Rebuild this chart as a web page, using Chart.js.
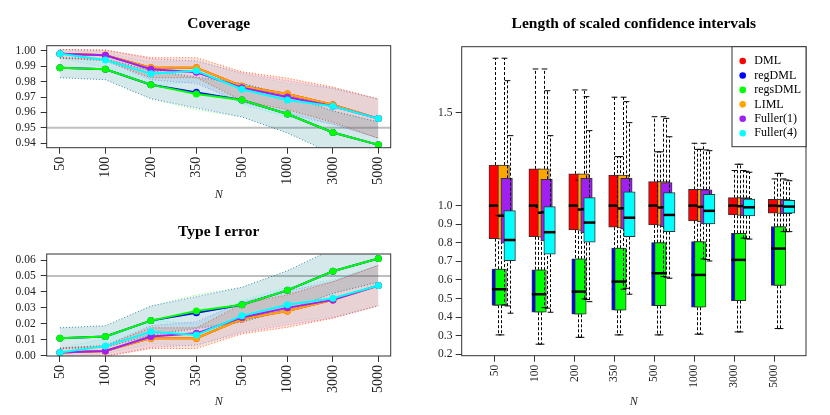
<!DOCTYPE html>
<html lang="en">
<head>
<meta charset="UTF-8" />
<title>Coverage, type I error and CI length</title>
<style>
  html, body { margin: 0; padding: 0; background: #fff; overflow: hidden; }
  body { width: 830px; height: 415px; position: relative; }
  canvas { position: absolute; }
  #coverage { left: 0; top: 0; }
  #typeI { left: 0; top: 207px; }
  #lengths { left: 432px; top: 0; }
</style>
</head>
<body>
<canvas id="coverage" width="437" height="207"></canvas>
<canvas id="typeI" width="437" height="208"></canvas>
<canvas id="lengths" width="404" height="415"></canvas>

<script src="https://cdn.jsdelivr.net/npm/chart.js@4.4.1/dist/chart.umd.min.js"></script>
<script>
const sampleSizes = ['50', '100', '200', '350', '500', '1000', '3000', '5000'];
const methods = ['DML', 'regDML', 'regsDML', 'LIML', 'Fuller(1)', 'Fuller(4)'];
const methodColors = ['#FF0000', '#0000FF', '#00FF00', '#FFA500', '#A020F0', '#00FFFF'];

// one row per method, one column per N
const coverage = [
  [0.998, 0.997, 0.989, 0.989, 0.977, 0.972, 0.965, 0.956],
  [0.989, 0.988, 0.978, 0.973, 0.968, 0.959, 0.947, 0.939],
  [0.989, 0.988, 0.978, 0.972, 0.968, 0.959, 0.947, 0.939],
  [0.998, 0.997, 0.989, 0.989, 0.977, 0.972, 0.965, 0.956],
  [0.998, 0.997, 0.988, 0.986, 0.976, 0.970, 0.964, 0.956],
  [0.998, 0.994, 0.985, 0.987, 0.975, 0.968, 0.964, 0.956]
];
const coverageLow = [
  [0.9952, 0.9936, 0.9825, 0.9825, 0.9677, 0.9618, 0.9536, 0.9433],
  [0.9825, 0.9812, 0.9689, 0.9630, 0.9571, 0.9467, 0.9331, 0.9242],
  [0.9825, 0.9812, 0.9689, 0.9618, 0.9571, 0.9467, 0.9331, 0.9242],
  [0.9952, 0.9936, 0.9825, 0.9825, 0.9677, 0.9618, 0.9536, 0.9433],
  [0.9952, 0.9936, 0.9812, 0.9787, 0.9665, 0.9594, 0.9524, 0.9433],
  [0.9952, 0.9892, 0.9775, 0.9800, 0.9653, 0.9571, 0.9524, 0.9433]
];
const coverageHigh = [
  [1.0008, 1.0004, 0.9955, 0.9955, 0.9863, 0.9822, 0.9764, 0.9687],
  [0.9955, 0.9948, 0.9871, 0.9830, 0.9789, 0.9713, 0.9609, 0.9538],
  [0.9955, 0.9948, 0.9871, 0.9822, 0.9789, 0.9713, 0.9609, 0.9538],
  [1.0008, 1.0004, 0.9955, 0.9955, 0.9863, 0.9822, 0.9764, 0.9687],
  [1.0008, 1.0004, 0.9948, 0.9933, 0.9855, 0.9806, 0.9756, 0.9687],
  [1.0008, 0.9988, 0.9925, 0.9940, 0.9847, 0.9789, 0.9756, 0.9687]
];

const typeOneError = [
  [0.002, 0.003, 0.011, 0.011, 0.023, 0.028, 0.035, 0.044],
  [0.011, 0.012, 0.022, 0.027, 0.032, 0.041, 0.053, 0.061],
  [0.011, 0.012, 0.022, 0.028, 0.032, 0.041, 0.053, 0.061],
  [0.002, 0.003, 0.011, 0.011, 0.023, 0.028, 0.035, 0.044],
  [0.002, 0.003, 0.012, 0.014, 0.024, 0.030, 0.035, 0.044],
  [0.002, 0.006, 0.015, 0.013, 0.025, 0.032, 0.036, 0.044]
];
const typeOneLow = [
  [-0.0008, -0.0004, 0.0045, 0.0045, 0.0137, 0.0178, 0.0236, 0.0313],
  [0.0045, 0.0052, 0.0129, 0.0170, 0.0211, 0.0287, 0.0391, 0.0462],
  [0.0045, 0.0052, 0.0129, 0.0178, 0.0211, 0.0287, 0.0391, 0.0462],
  [-0.0008, -0.0004, 0.0045, 0.0045, 0.0137, 0.0178, 0.0236, 0.0313],
  [-0.0008, -0.0004, 0.0052, 0.0067, 0.0145, 0.0194, 0.0236, 0.0313],
  [-0.0008, 0.0012, 0.0075, 0.0060, 0.0153, 0.0211, 0.0244, 0.0313]
];
const typeOneHigh = [
  [0.0048, 0.0064, 0.0175, 0.0175, 0.0323, 0.0382, 0.0464, 0.0567],
  [0.0175, 0.0188, 0.0311, 0.0370, 0.0429, 0.0533, 0.0669, 0.0758],
  [0.0175, 0.0188, 0.0311, 0.0382, 0.0429, 0.0533, 0.0669, 0.0758],
  [0.0048, 0.0064, 0.0175, 0.0175, 0.0323, 0.0382, 0.0464, 0.0567],
  [0.0048, 0.0064, 0.0188, 0.0213, 0.0335, 0.0406, 0.0464, 0.0567],
  [0.0048, 0.0108, 0.0225, 0.0200, 0.0347, 0.0429, 0.0476, 0.0567]
];

// boxplot statistics of the scaled CI lengths
const lenLower = [
  [0.465, 0.451, 0.498, 0.550, 0.618, 0.713, 0.825, 0.860],
  [0.304, 0.254, 0.291, 0.304, 0.304, 0.308, 0.320, 0.338],
  [0.304, 0.254, 0.291, 0.304, 0.304, 0.308, 0.320, 0.338],
  [0.465, 0.451, 0.498, 0.550, 0.618, 0.713, 0.825, 0.860],
  [0.460, 0.448, 0.495, 0.555, 0.615, 0.710, 0.822, 0.860],
  [0.421, 0.426, 0.483, 0.523, 0.609, 0.702, 0.820, 0.860]
];
const lenQ1 = [
  [0.822, 0.833, 0.869, 0.884, 0.896, 0.918, 0.950, 0.959],
  [0.464, 0.426, 0.415, 0.437, 0.462, 0.453, 0.489, 0.571],
  [0.464, 0.426, 0.415, 0.437, 0.462, 0.453, 0.489, 0.571],
  [0.820, 0.830, 0.866, 0.880, 0.893, 0.914, 0.948, 0.958],
  [0.798, 0.810, 0.855, 0.873, 0.887, 0.902, 0.946, 0.957],
  [0.704, 0.739, 0.803, 0.833, 0.860, 0.902, 0.945, 0.959]
];
const lenMedian = [
  [1.000, 1.000, 1.000, 1.000, 1.000, 1.000, 1.000, 1.000],
  [0.550, 0.523, 0.537, 0.591, 0.636, 0.627, 0.708, 0.769],
  [0.550, 0.523, 0.537, 0.591, 0.636, 0.627, 0.708, 0.769],
  [0.946, 0.962, 0.979, 0.985, 0.990, 0.993, 0.997, 0.998],
  [0.946, 0.964, 0.981, 0.986, 0.991, 0.994, 0.998, 0.999],
  [0.815, 0.857, 0.909, 0.935, 0.950, 0.972, 0.991, 0.995]
];
const lenQ3 = [
  [1.219, 1.198, 1.171, 1.165, 1.129, 1.088, 1.043, 1.034],
  [0.658, 0.654, 0.713, 0.771, 0.801, 0.806, 0.851, 0.887],
  [0.658, 0.654, 0.713, 0.771, 0.801, 0.806, 0.851, 0.887],
  [1.219, 1.198, 1.171, 1.165, 1.129, 1.088, 1.043, 1.034],
  [1.147, 1.142, 1.147, 1.147, 1.124, 1.085, 1.040, 1.031],
  [0.973, 0.995, 1.043, 1.075, 1.070, 1.061, 1.036, 1.029]
];
const lenUpper = [
  [1.794, 1.736, 1.623, 1.584, 1.479, 1.336, 1.189, 1.144],
  [0.946, 0.990, 1.138, 1.264, 1.290, 1.303, 1.223, 1.174],
  [0.946, 0.990, 1.138, 1.264, 1.290, 1.303, 1.223, 1.174],
  [1.794, 1.736, 1.623, 1.584, 1.479, 1.336, 1.189, 1.144],
  [1.673, 1.619, 1.587, 1.560, 1.470, 1.300, 1.185, 1.138],
  [1.377, 1.377, 1.404, 1.447, 1.371, 1.296, 1.180, 1.134]
];

const coverageTicks = [0.94, 0.95, 0.96, 0.97, 0.98, 0.99, 1.00];
const errorTicks = [0.00, 0.01, 0.02, 0.03, 0.04, 0.05, 0.06];
const lengthTicks = [0.2, 0.3, 0.4, 0.5, 0.6, 0.7, 0.8, 0.9, 1.0, 1.5];

const serif = "'Liberation Serif', 'DejaVu Serif', serif";
const BOX_W = 11.5;      // box width in px
const BOX_SHIFT = 0.075; // shift between methods, in N steps

function rgba(hex, a) {
  const n = parseInt(hex.slice(1), 16);
  return `rgba(${(n >> 16) & 255},${(n >> 8) & 255},${n & 255},${a})`;
}

const frame = {
  id: 'frame',
  afterDatasetsDraw(chart) {
    const a = chart.chartArea, ctx = chart.ctx;
    ctx.save();
    ctx.strokeStyle = '#333';
    ctx.lineWidth = 1;
    ctx.strokeRect(a.left, a.top, a.right - a.left, a.bottom - a.top);
    ctx.restore();
  }
};

const refLine = {
  id: 'refLine',
  beforeDatasetsDraw(chart, args, opts) {
    if (opts.level == null) return;
    const a = chart.chartArea, ctx = chart.ctx;
    const y = chart.scales.y.getPixelForValue(opts.level);
    ctx.save();
    ctx.strokeStyle = '#BEBEBE';
    ctx.lineWidth = 2;
    ctx.beginPath();
    ctx.moveTo(a.left, y);
    ctx.lineTo(a.right, y);
    ctx.stroke();
    ctx.restore();
  }
};

function xAxis(min, max, fontSize, h, nBottom) {
  return {
    type: 'linear', min: min, max: max, offset: false,
    afterBuildTicks: s => { s.ticks = sampleSizes.map((_, i) => ({ value: i })); },
    afterFit: s => { s.height = h; },
    ticks: {
      callback: v => sampleSizes[v], autoSkip: false, maxRotation: 90, minRotation: 90,
      color: '#222', padding: 3, font: { family: serif, size: fontSize }
    },
    grid: { offset: false, drawOnChartArea: false, tickLength: 6, tickColor: '#333' },
    border: { display: false },
    title: {
      display: true, text: 'N', color: '#222',
      font: { family: serif, size: 12, style: 'italic' },
      padding: { top: 0, bottom: nBottom }
    }
  };
}

function yAxis(min, max, ticks, digits, w, pad) {
  return {
    min: min, max: max,
    afterBuildTicks: s => { s.ticks = ticks.map(v => ({ value: v })); },
    afterFit: s => { s.width = w; },
    ticks: { callback: v => v.toFixed(digits), color: '#222', padding: pad, font: { family: serif, size: 11.5 } },
    grid: { drawOnChartArea: false, tickLength: 6, tickColor: '#333' },
    border: { display: false }
  };
}

function titleOpts(text, top, bottom) {
  return {
    display: true, text: text, fullSize: false, color: '#000',
    font: { family: serif, size: 15.5, weight: 'bold' },
    padding: { top: top, bottom: bottom }
  };
}

function lineChart(id, title, values, lows, highs, yMin, yMax, ticks, level, g) {
  const datasets = [];
  methods.forEach((m, k) => {
    const edge = rgba(methodColors[k], 0.45);
    datasets.push({
      data: highs[k].map((v, i) => ({ x: i, y: v })),
      borderColor: edge, borderWidth: 1, borderDash: [1, 2],
      backgroundColor: rgba(methodColors[k], 0.085), fill: '+1',
      pointRadius: 0, order: 100
    });
    datasets.push({
      data: lows[k].map((v, i) => ({ x: i, y: v })),
      borderColor: edge, borderWidth: 1, borderDash: [1, 2],
      fill: false, pointRadius: 0, order: 100
    });
  });
  methods.forEach((m, k) => {
    datasets.push({
      label: m,
      data: values[k].map((v, i) => ({ x: i, y: v })),
      borderColor: methodColors[k], backgroundColor: methodColors[k],
      borderWidth: 2, pointRadius: 3.5, pointBorderWidth: 0,
      pointBackgroundColor: methodColors[k], fill: false, order: 20 - k
    });
  });

  new Chart(document.getElementById(id), {
    type: 'line',
    data: { datasets: datasets },
    options: {
      responsive: false, animation: false, devicePixelRatio: 1,
      layout: { padding: { left: 0, right: g.right, top: 0, bottom: 0 } },
      plugins: {
        legend: { display: false }, tooltip: { enabled: false },
        title: titleOpts(title, g.titleTop, g.titleBottom),
        refLine: { level: level }
      },
      scales: {
        x: xAxis(-0.29, 7.27, 14, g.xHeight, g.nBottom),
        y: yAxis(yMin, yMax, ticks, 2, 46.7, 5)
      }
    },
    plugins: [refLine, frame]
  });
}

lineChart('coverage', 'Coverage', coverage, coverageLow, coverageHigh,
  0.93715, 1.00324, coverageTicks, 0.95,
  { right: 46.3, titleTop: 14.7, titleBottom: 12.4, xHeight: 59.3, nBottom: 5.1 });

lineChart('typeI', 'Type I error', typeOneError, typeOneLow, typeOneHigh,
  -0.0002, 0.0638, errorTicks, 0.05,
  { right: 46.3, titleTop: 16, titleBottom: 12.4, xHeight: 59, nBottom: 6.1 });

// whiskers, staples and medians drawn per method, so later boxes cover earlier ones
const boxParts = {
  id: 'boxParts',
  beforeDatasetDraw(chart, args) {
    const k = args.index, ctx = chart.ctx;
    const xs = chart.scales.x, ys = chart.scales.y;
    ctx.save();
    ctx.strokeStyle = '#000';
    ctx.lineWidth = 1;
    sampleSizes.forEach((_, i) => {
      const cx = Math.round(xs.getPixelForValue(i + k * BOX_SHIFT)) + 0.5;
      const lo = ys.getPixelForValue(lenLower[k][i]);
      const q1 = ys.getPixelForValue(lenQ1[k][i]);
      const q3 = ys.getPixelForValue(lenQ3[k][i]);
      const hi = ys.getPixelForValue(lenUpper[k][i]);
      ctx.setLineDash([3, 2]);
      ctx.beginPath();
      ctx.moveTo(cx, q3); ctx.lineTo(cx, hi);
      ctx.moveTo(cx, q1); ctx.lineTo(cx, lo);
      ctx.stroke();
      ctx.setLineDash([]);
      ctx.beginPath();
      ctx.moveTo(cx - BOX_W / 4, hi); ctx.lineTo(cx + BOX_W / 4, hi);
      ctx.moveTo(cx - BOX_W / 4, lo); ctx.lineTo(cx + BOX_W / 4, lo);
      ctx.stroke();
    });
    ctx.restore();
  },
  afterDatasetDraw(chart, args) {
    const k = args.index, ctx = chart.ctx;
    const xs = chart.scales.x, ys = chart.scales.y;
    ctx.save();
    ctx.strokeStyle = '#000';
    ctx.lineWidth = 2.5;
    sampleSizes.forEach((_, i) => {
      const cx = xs.getPixelForValue(i + k * BOX_SHIFT);
      const y = ys.getPixelForValue(lenMedian[k][i]);
      ctx.beginPath();
      ctx.moveTo(cx - BOX_W / 2, y); ctx.lineTo(cx + BOX_W / 2, y);
      ctx.stroke();
    });
    ctx.restore();
  }
};

const legendBox = {
  id: 'legendBox',
  afterDraw(chart) {
    const a = chart.chartArea, ctx = chart.ctx;
    const w = 74, h = 100, left = a.right - w;
    ctx.save();
    ctx.fillStyle = '#fff';
    ctx.fillRect(left, a.top, w, h);
    ctx.strokeStyle = '#333';
    ctx.lineWidth = 1;
    ctx.strokeRect(left, a.top, w, h);
    ctx.font = `12px ${serif}`;
    ctx.textBaseline = 'middle';
    methods.forEach((m, k) => {
      const y = a.top + 14.3 + k * 14.45;
      ctx.fillStyle = methodColors[k];
      ctx.beginPath();
      ctx.arc(a.right - 63.3, y, 3.3, 0, Math.PI * 2);
      ctx.fill();
      ctx.fillStyle = '#000';
      ctx.fillText(m, a.right - 51.7, y);
    });
    ctx.restore();
  }
};

new Chart(document.getElementById('lengths'), {
  type: 'bar',
  data: {
    datasets: methods.map((m, k) => ({
      label: m,
      data: sampleSizes.map((_, i) => ({ x: i + k * BOX_SHIFT, y: [lenQ1[k][i], lenQ3[k][i]] })),
      backgroundColor: methodColors[k],
      borderColor: '#333', borderWidth: 1, borderSkipped: false,
      barThickness: BOX_W, grouped: false,
      order: methods.length - k
    }))
  },
  options: {
    responsive: false, animation: false, devicePixelRatio: 1,
    layout: { padding: { left: 0, right: 30, top: 0, bottom: 0 } },
    plugins: {
      legend: { display: false }, tooltip: { enabled: false },
      title: titleOpts('Length of scaled confidence intervals', 14.7, 13.4)
    },
    scales: {
      x: xAxis(-0.827, 7.8, 11.5, 59.3, 6.1),
      y: yAxis(0.192, 1.856, lengthTicks, 1, 29.7, 3.3)
    }
  },
  plugins: [boxParts, frame, legendBox]
});
</script>
</body>
</html>
